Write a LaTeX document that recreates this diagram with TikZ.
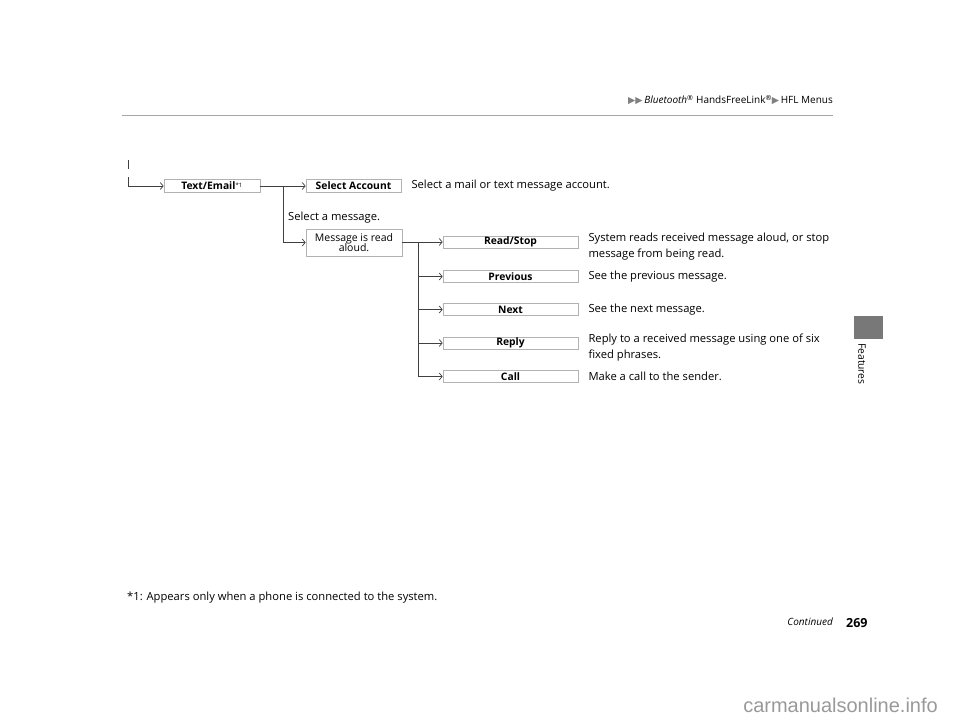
\documentclass[tikz,border=0pt]{standalone}
\usepackage{fontspec}
\setmainfont{Open Sans}
\newfontfamily\symfont{DejaVu Sans}
\newfontfamily\wmfont{Liberation Sans}
\usetikzlibrary{arrows.meta, positioning}

\begin{document}
\begin{tikzpicture}[
    x=1pt, y=-1pt,
    menu/.style={rectangle, draw=gray!60, line width=0.7pt, fill=white, minimum width=96pt, minimum height=13pt, inner sep=0pt, align=center, font=\fontsize{10.3}{10}\selectfont\bfseries},
    submenu/.style={menu, minimum width=135pt, minimum height=12pt},
    desc/.style={anchor=west, inner sep=0pt, align=left, font=\fontsize{11.2}{16.5}\selectfont},
    arrow/.style={-{Straight Barb[length=3pt, width=7pt]}, line width=0.7pt, draw=black!75},
    link/.style={line width=0.7pt, draw=black!75}
]
\useasboundingbox (0,0) rectangle (960,722);

% ==================== Page header ====================
\node[anchor=east, inner sep=0pt, font=\fontsize{10}{11}\selectfont] (head) at (833,100)
    {{\color{gray}\symfont\fontsize{9.5}{11}\selectfont ▶▶}\,\textit{Bluetooth}\textsuperscript{®} HandsFreeLink\textsuperscript{®}{\color{gray}\symfont\fontsize{9.5}{11}\selectfont ▶}\,HFL Menus};
\draw[gray!70, line width=0.8pt] (122,115) -- (833,115);

% ==================== Side tab ====================
\fill[black!53] (854,316) rectangle (883,339);
\node[rotate=-90, anchor=west, inner sep=0pt, font=\fontsize{10.3}{11}\selectfont] (tab) at (862,343) {Features};

% ==================== Menu tree ====================
\coordinate (start) at (128,177);
\draw[link] (128,160) -- (128,169);

\node[menu] (TextEmail) at (212,186) {Text/Email{\fontsize{8.5}{8}\selectfont\mdseries\textsuperscript{*1}}};
\node[menu, minimum width=95pt] (SelAccount) at (353.5,186) {Select Account};
\node[desc, right=10pt of SelAccount] (d_acc) {Select a mail or text message account.};

\coordinate (j1) at (283,186);
\node[desc] (d_msg) at (288,218) {Select a message.};
\node[menu, minimum height=27pt, font=\fontsize{10.5}{10.5}\selectfont] (Message) at (354,242.5) {Message is read\\aloud.};

\node[submenu] (ReadStop) at (510.5,242) {Read/Stop};
\node[submenu] (Previous) at (510.5,276.5) {Previous};
\node[submenu] (Next) at (510.5,309.5) {Next};
\node[submenu] (Reply) at (510.5,343) {Reply};
\node[submenu] (Call) at (510.5,376.5) {Call};
\coordinate (j2) at (418,242);

\node[desc, anchor=north west] (d_read) at ([xshift=10pt, yshift=3pt]ReadStop.north east) {System reads received message aloud, or stop\\message from being read.};
\node[desc, right=10pt of Previous] (d_prev) {See the previous message.};
\node[desc, right=10pt of Next] (d_next) {See the next message.};
\node[desc, anchor=north west] (d_reply) at ([xshift=10pt, yshift=3pt]Reply.north east) {Reply to a received message using one of six\\fixed phrases.};
\node[desc, right=10pt of Call] (d_call) {Make a call to the sender.};

% Connections
\draw[arrow] (start) |- (TextEmail.west);
\draw[arrow] (TextEmail.east) -- (SelAccount.west);
\draw[arrow] (j1) |- (Message.west);
\draw[arrow] (Message.east |- ReadStop) -- (ReadStop.west);
\foreach \n in {Previous, Next, Reply, Call}
    \draw[arrow] (j2) |- (\n.west);

% ==================== Footer ====================
\node[desc] (note) at (127,598) {*1: Appears only when a phone is connected to the system.};
\node[anchor=east, inner sep=0pt, font=\fontsize{10}{11}\selectfont\itshape] (cont) at (833,622) {Continued};
\node[anchor=west, inner sep=0pt, font=\fontsize{12.5}{13}\selectfont\bfseries] (page) at (846,623) {269};
\node[anchor=east, inner sep=0pt, text=black!40, font=\wmfont\fontsize{20}{21}\selectfont] (wm) at (938,705) {carmanualsonline.info};

\end{tikzpicture}
\end{document}
